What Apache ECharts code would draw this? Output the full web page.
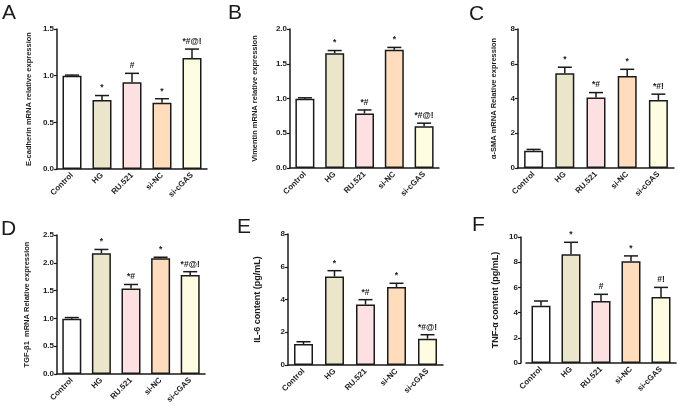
<!DOCTYPE html>
<html>
<head>
<meta charset="utf-8">
<script src="https://cdn.jsdelivr.net/npm/echarts@6/dist/echarts.min.js"></script>
<style>
  html, body { margin: 0; padding: 0; background: #fff; }
  #main { width: 678px; height: 410px; }
</style>
</head>
<body>
<div id="main"></div>
<script>
// groups on the x axis
var groups = ['Control', 'HG', 'RU.521', 'si-NC', 'si-cGAS'];
var barColors = ['#ffffff', '#ebe5ca', '#fde0e2', '#fedcbc', '#fefde2'];

// A: E-cadherin
var ecadMean = [1.0, 0.74, 0.93, 0.71, 1.19];
var ecadErr = [0.006, 0.047, 0.095, 0.043, 0.095];
var ecadMarks = ['', '*', '#', '*', '*#@!'];
// B: Vimentin
var vimMean = [0.995, 1.65, 0.785, 1.70, 0.60];
var vimErr = [0.015, 0.04, 0.05, 0.035, 0.045];
var vimMarks = ['', '*', '*#', '*', '*#@!'];
// C: a-SMA
var smaMean = [1.0, 5.45, 4.06, 5.3, 3.92];
var smaErr = [0.07, 0.35, 0.28, 0.38, 0.33];
var smaMarks = ['', '*', '*#', '*', '*#!'];
// D: TGF-b1
var tgfMean = [0.995, 2.17, 1.54, 2.08, 1.78];
var tgfErr = [0.02, 0.07, 0.07, 0.02, 0.06];
var tgfMarks = ['', '*', '*#', '*', '*#@!'];
// E: IL-6
var il6Mean = [1.28, 5.4, 3.69, 4.77, 1.61];
var il6Err = [0.14, 0.36, 0.30, 0.22, 0.24];
var il6Marks = ['', '*', '*#', '*', '*#@!'];
// F: TNF-a
var tnfMean = [4.55, 8.63, 4.92, 8.08, 5.24];
var tnfErr = [0.37, 0.95, 0.53, 0.42, 0.76];
var tnfMarks = ['', '*', '#', '*', '#!'];

var FONT = '"Liberation Sans", Arial, sans-serif';
var INK = '#1a1a1a';

var panels = [
  { letter: 'A', mean: ecadMean, err: ecadErr, marks: ecadMarks, name: 'E-cadherin mRNA relative expression',
    max: 1.5, step: 0.5, dec: 1, grid: { left: 57, top: 29, width: 150, height: 140 }, nameSize: 7.5, nameGap: 24, lx: 2, ly: 3 },
  { letter: 'B', mean: vimMean, err: vimErr, marks: vimMarks, name: 'Vimentin mRNA relative expression',
    max: 2.0, step: 0.5, dec: 1, grid: { left: 290, top: 29, width: 149, height: 139 }, nameSize: 7.5, nameGap: 31, lx: 228, ly: 3 },
  { letter: 'C', mean: smaMean, err: smaErr, marks: smaMarks, name: 'α-SMA mRNA Relative expression',
    max: 8, step: 2, dec: 0, grid: { left: 518, top: 29, width: 156, height: 139 }, nameSize: 7.5, nameGap: 20, lx: 469, ly: 4 },
  { letter: 'D', mean: tgfMean, err: tgfErr, marks: tgfMarks, name: 'TGF-β1  mRNA Relative expression',
    max: 2.5, step: 0.5, dec: 1, grid: { left: 57, top: 235, width: 148, height: 139 }, nameSize: 7.5, nameGap: 26, lx: 1, ly: 219 },
  { letter: 'E', mean: il6Mean, err: il6Err, marks: il6Marks, name: 'IL-6 content (pg/mL)',
    max: 8, step: 2, dec: 0, grid: { left: 288, top: 234, width: 155, height: 131 }, nameSize: 9, nameGap: 26, lx: 237, ly: 217 },
  { letter: 'F', mean: tnfMean, err: tnfErr, marks: tnfMarks, name: 'TNF-α content (pg/mL)',
    max: 10, step: 2, dec: 0, grid: { left: 526, top: 237, width: 150, height: 126 }, nameSize: 9, nameGap: 21, lx: 472, ly: 215, offset: 5 }
];

var grids = [], xAxes = [], yAxes = [], series = [], graphics = [];

panels.forEach(function (p, k) {
  grids.push(p.grid);
  xAxes.push({
    gridIndex: k, type: 'category', data: groups,
    axisLine: { lineStyle: { color: INK, width: 1.5 } },
    axisTick: { show: false },
    axisLabel: { rotate: 45, fontSize: 8, fontWeight: 'bold', color: INK, fontFamily: FONT, margin: 5, interval: 0 }
  });
  yAxes.push({
    gridIndex: k, type: 'value', min: 0, max: p.max, interval: p.step, offset: p.offset || 0,
    name: p.name, nameLocation: 'middle', nameGap: p.nameGap,
    nameTextStyle: { fontSize: p.nameSize, fontWeight: 'bold', color: INK, fontFamily: FONT },
    axisLine: { show: true, lineStyle: { color: INK, width: 1.5 } },
    axisTick: { show: true, length: 3, lineStyle: { color: INK, width: 1.2 } },
    splitLine: { show: false },
    axisLabel: { fontSize: 8, fontWeight: 'bold', color: INK, fontFamily: FONT, margin: 3,
      formatter: function (v) { return v.toFixed(p.dec); } }
  });
  series.push({
    type: 'bar', xAxisIndex: k, yAxisIndex: k, barWidth: 19,
    data: p.mean.map(function (v, i) {
      return { value: v, itemStyle: { color: barColors[i] } };
    }),
    itemStyle: { borderColor: INK, borderWidth: 1.5 },
    silent: true
  });
  series.push({
    type: 'custom', xAxisIndex: k, yAxisIndex: k, z: 5, silent: true,
    data: p.mean.map(function (v, i) { return [i, v, p.err[i]]; }),
    renderItem: function (params, api) {
      var i = api.value(0), m = api.value(1), e = api.value(2);
      var base = api.coord([i, m]);
      var top = api.coord([i, m + e]);
      var cap = 7;
      return {
        type: 'group',
        children: [
          { type: 'line', shape: { x1: base[0], y1: base[1], x2: top[0], y2: top[1] },
            style: { stroke: INK, lineWidth: 1.5 } },
          { type: 'line', shape: { x1: top[0] - cap, y1: top[1], x2: top[0] + cap, y2: top[1] },
            style: { stroke: INK, lineWidth: 1.5 } },
          { type: 'text', x: top[0], y: top[1] - 3,
            style: { text: p.marks[params.dataIndex], fill: INK, fontSize: 8.5, fontWeight: 'bold',
              fontFamily: FONT, align: 'center', verticalAlign: 'bottom' } }
        ]
      };
    }
  });
  graphics.push({
    type: 'text', left: p.lx, top: p.ly,
    style: { text: p.letter, fontSize: 21, fill: INK, fontFamily: FONT }
  });
});

var chart = echarts.init(document.getElementById('main'), null, { renderer: 'canvas' });
chart.setOption({
  backgroundColor: '#ffffff',
  animation: false,
  grid: grids,
  xAxis: xAxes,
  yAxis: yAxes,
  series: series,
  graphic: graphics
});
</script>
</body>
</html>
